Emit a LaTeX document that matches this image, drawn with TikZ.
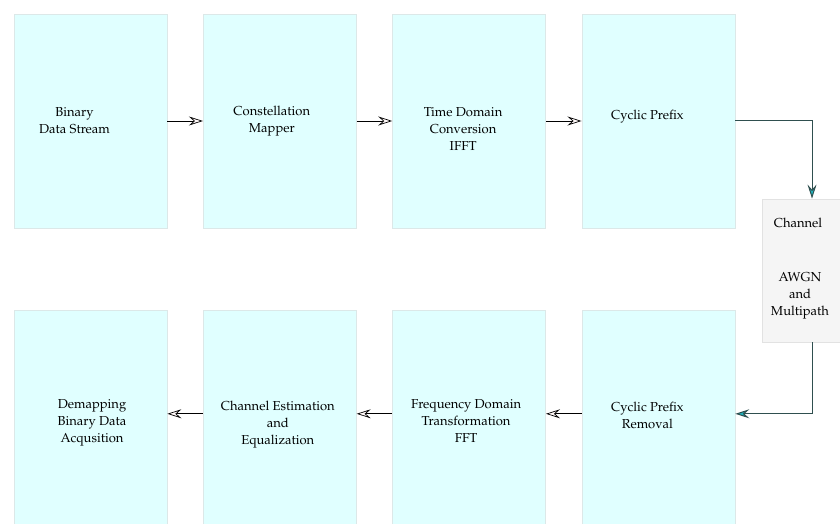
\documentclass[tikz,border=0pt]{standalone}
\usepackage[T1]{fontenc}
\usepackage{mathpazo}
\usetikzlibrary{arrows.meta,positioning}
\definecolor{boxfill}{HTML}{E0FFFF}
\definecolor{boxline}{HTML}{DCE8E8}
\definecolor{chanfill}{HTML}{F5F5F5}
\definecolor{chanline}{HTML}{E2E2E2}
\definecolor{tealhead}{HTML}{1FB5BF}
\definecolor{darkline}{HTML}{2F4F4F}

\begin{document}
\begin{tikzpicture}[x=1pt, y=1pt, node distance=35.5pt, every node/.style={font=\fontsize{13}{17}\selectfont}, box/.style={draw=boxline,fill=boxfill,line width=0.8pt,inner sep=0pt,minimum width=153pt,minimum height=214pt}, chanbox/.style={draw=chanline,fill=chanfill,line width=0.8pt,inner sep=0pt,minimum width=84pt,minimum height=143pt}, lbl/.style={align=center}, >={Stealth[length=14pt,width=9pt,inset=5pt,fill=pink!10]}, flow/.style={line width=0.7pt,->}, chan/.style={darkline,line width=1pt,-{Stealth[length=14pt,width=9pt,inset=5pt,fill=tealhead]}}]
\useasboundingbox (0,0) rectangle (840,523);
% transmitter
\node[box, label={[lbl,xshift=-16pt]center:Binary\\Data Stream}] (bits) at (90.5,402) {};
\node[box, right=of bits, label={[lbl,xshift=-8pt]center:Constellation\\Mapper}] (mapper) {};
\node[box, right=of mapper, label={[lbl,xshift=-6pt,yshift=-8pt]center:Time Domain\\Conversion\\IFFT}] (ifft) {};
\node[box, right=of ifft, label={[lbl,xshift=-11pt,yshift=4pt]center:Cyclic Prefix}] (cp) {};
% channel
\node[chanbox, label={[lbl,xshift=-6pt,yshift=48pt]center:Channel}, label={[lbl,xshift=-4pt,yshift=-25pt]center:AWGN\\and\\Multipath}] (chan) at (804,252.5) {};
% receiver
\node[box, below=82pt of cp, label={[lbl,xshift=-11pt,yshift=2pt]center:Cyclic Prefix\\Removal}] (cpr) {};
\node[box, left=of cpr, label={[lbl,xshift=-3pt,yshift=-3pt]center:Frequency Domain\\Transformation\\FFT}] (fft) {};
\node[box, left=of fft, label={[lbl,xshift=-2pt,yshift=-7pt]center:Channel Estimation\\and\\Equalization}] (equal) {};
\node[box, left=of equal, label={[lbl,xshift=1.5pt,yshift=-5pt]center:Demapping\\Binary Data\\Acqusition}] (demap) {};
\draw[flow] (bits) -- (mapper);
\draw[flow] (mapper) -- (ifft);
\draw[flow] (ifft) -- (cp);
\draw[chan] (cp.east) -| ([xshift=8pt]chan.north);
\draw[chan] ([xshift=8pt]chan.south) |- ([yshift=4pt]cpr.east);
\draw[flow] ([yshift=4pt]cpr.west) -- ([yshift=4pt]fft.east);
\draw[flow] ([yshift=4pt]fft.west) -- ([yshift=4pt]equal.east);
\draw[flow] ([yshift=4pt]equal.west) -- ([yshift=4pt]demap.east);
\end{tikzpicture}
\end{document}
